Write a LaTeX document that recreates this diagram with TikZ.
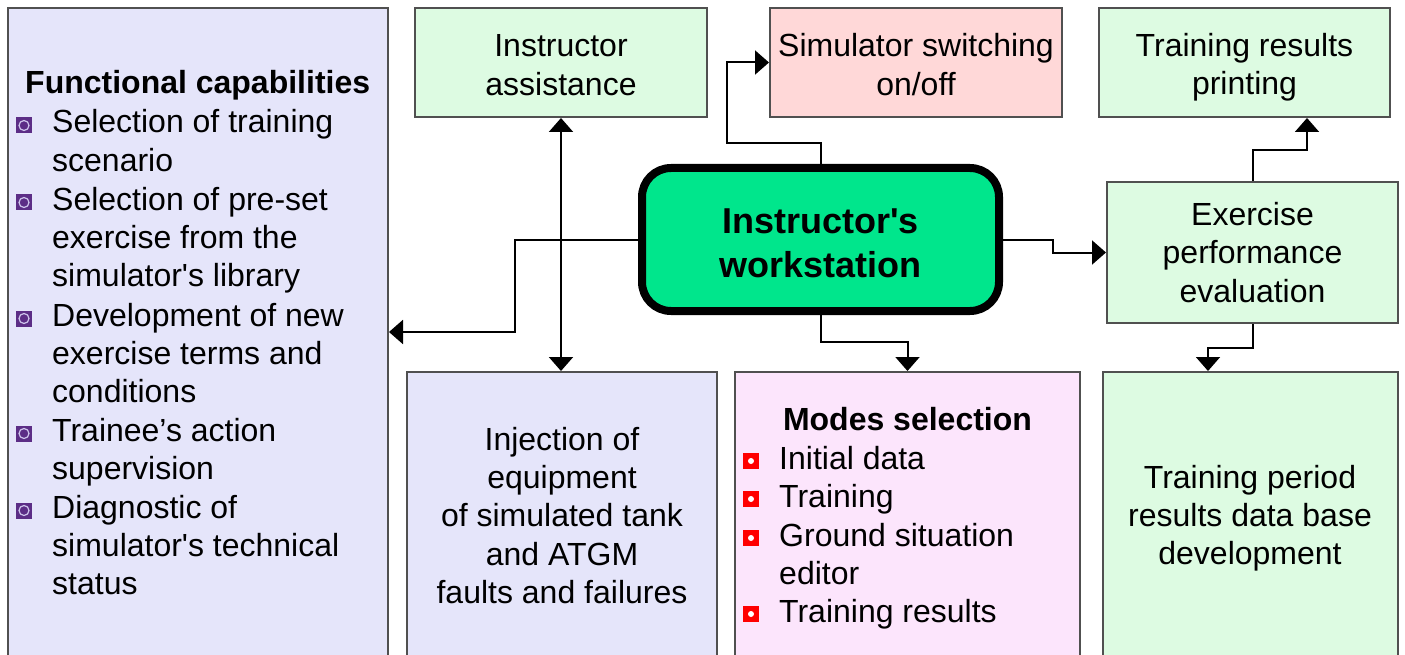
\documentclass[tikz,border=0pt]{standalone}
\usepackage{fontspec}
\newfontfamily\arial{Liberation Sans}
\usetikzlibrary{arrows.meta}

\definecolor{lav}{RGB}{229,229,250}
\definecolor{grn}{RGB}{221,251,226}
\definecolor{pnk}{RGB}{255,216,216}
\definecolor{mag}{RGB}{252,229,252}
\definecolor{wsg}{RGB}{0,230,140}
\definecolor{boxline}{RGB}{80,80,80}
\definecolor{purp}{RGB}{92,45,134}
\definecolor{ring}{RGB}{205,195,235}

\tikzset{
  txt/.style={font=\arial\fontsize{32}{38.4}\selectfont, inner sep=0pt},
  btxt/.style={font=\arial\bfseries\fontsize{32}{38.4}\selectfont, inner sep=0pt},
  box/.style={draw=boxline, line width=2pt, inner sep=0pt, align=center,
    font=\arial\fontsize{32}{38.4}\selectfont},
  hub/.style={draw=black, line width=8pt, rounded corners=29pt, fill=wsg,
    inner sep=0pt, align=center, font=\arial\bfseries\fontsize{36}{44}\selectfont},
  link/.style={draw=black, line width=2pt, -{Triangle[length=14pt,width=24pt]}},
  link2/.style={draw=black, line width=2pt,
    {Triangle[length=14pt,width=24pt]}-{Triangle[length=14pt,width=24pt]}},
  pbul/.style={fill=purp, minimum size=16pt, inner sep=0pt,
    path picture={\draw[ring, line width=1.2pt] (path picture bounding box.center) circle (5pt);}},
  rbul/.style={fill=red, minimum size=16pt, inner sep=0pt,
    path picture={\fill[white] (path picture bounding box.center) circle (3pt);}}
}

\begin{document}
\begin{tikzpicture}[x=1pt,y=-1pt]
\useasboundingbox (0,0) rectangle (1405,655);
\clip (0,0) rectangle (1405,655);
\fill[white] (0,0) rectangle (1405,655);

% boxes
\node[box, fill=lav, minimum width=380pt, minimum height=672pt] (func) at (198,344) {};
\node[box, fill=grn, minimum width=292pt, minimum height=109pt] (assist) at (561,62.5) {\rule{0pt}{27pt}Instructor\\assistance};
\node[box, fill=pnk, minimum width=292pt, minimum height=109pt] (switch) at (916,62.5) {\rule{0pt}{27pt}Simulator switching\\on/off};
\node[box, fill=grn, minimum width=291pt, minimum height=109pt] (print) at (1244.5,62.5) {\rule{0pt}{33pt}Training results\\printing};
\node[hub, minimum width=357pt, minimum height=143pt] (ws) at (820.5,239.5) {\rule{0pt}{32pt}Instructor's\\workstation};
\node[box, fill=grn, minimum width=291pt, minimum height=141pt] (eval) at (1252.5,252.5) {Exercise\\performance\\evaluation};
\node[box, fill=lav, minimum width=310pt, minimum height=308pt] (inject) at (562,526) {};
\node[box, fill=mag, minimum width=345pt, minimum height=308pt] (modes) at (907.5,526) {};
\node[box, fill=grn, minimum width=295pt, minimum height=308pt] (period) at (1250.5,526) {};

% functional capabilities list (multi-line nodes sit on their last baseline)
\node[btxt, anchor=base west] (fhead) at (25,94) {Functional capabilities};
\node[txt, anchor=base west, align=left] (f1) at (52,171.4) {Selection of training\\scenario};
\node[txt, anchor=base west, align=left] (f2) at (52,286.8) {Selection of pre-set\\exercise from the\\simulator's library};
\node[txt, anchor=base west, align=left] (f3) at (52,402.8) {Development of new\\exercise terms and\\conditions};
\node[txt, anchor=base west, align=left] (f4) at (52,479.4) {Trainee’s action\\supervision};
\node[txt, anchor=base west, align=left] (f5) at (52,594.8) {Diagnostic of\\simulator's technical\\status};
\node[pbul] (fb1) at (24,125.5) {};
\node[pbul] (fb2) at (24,202.5) {};
\node[pbul] (fb3) at (24,318.5) {};
\node[pbul] (fb4) at (24,433.5) {};
\node[pbul] (fb5) at (24,510.5) {};

% injection text
\node[txt, anchor=base, align=center] (injt) at (562,603.6) {Injection of\\equipment\\of simulated tank\\and ATGM\\faults and failures};

% modes selection list
\node[btxt, anchor=base] (mhead) at (907.5,430) {Modes selection};
\node[txt, anchor=base west] (m1) at (779,469) {Initial data};
\node[txt, anchor=base west] (m2) at (779,507) {Training};
\node[txt, anchor=base west, align=left] (m3) at (779,584.4) {Ground situation\\editor};
\node[txt, anchor=base west] (m4) at (779,622) {Training results};
\node[rbul] (mb1) at (751,461) {};
\node[rbul] (mb2) at (751,499) {};
\node[rbul] (mb3) at (751,538) {};
\node[rbul] (mb4) at (751,614) {};

% training period text
\node[txt, anchor=base, align=center] (pert) at (1250,564.8) {Training period\\results data base\\development};

% connectors
\draw[link] (ws.west) -| (515,332) -- (func.east |- 0,332);
\draw[link2] (assist.south) -- (assist.south |- inject.north);
\draw[link] (ws.north) |- (727,143) |- (switch.west);
\draw[link] (ws.east) -| (1053,252.5) -- (eval.west);
\draw[link] (eval.north) |- (1307,150) -- (print.south -| 1307,0);
\draw[link] (eval.south) |- (1208,348) -- (period.north -| 1208,0);
\draw[link] (ws.south) |- (907.5,342) -- (modes.north);
\end{tikzpicture}
\end{document}
